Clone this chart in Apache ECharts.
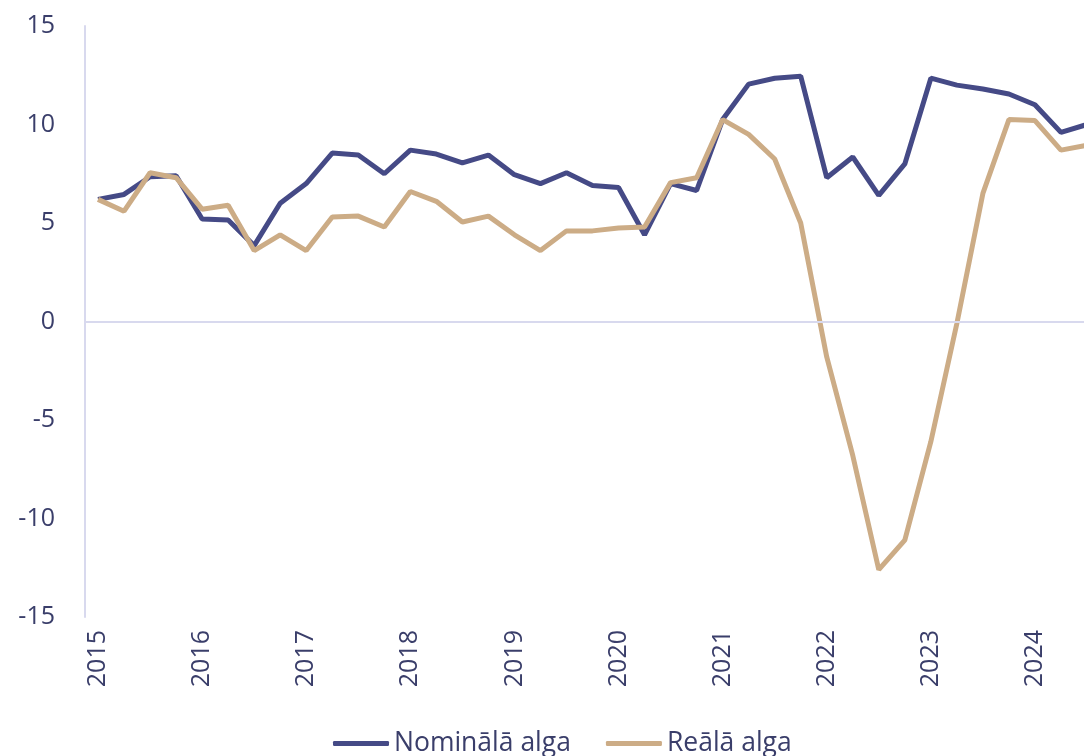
<!DOCTYPE html>
<html>
<head>
<meta charset="utf-8">
<script src="https://cdn.jsdelivr.net/npm/echarts@6/dist/echarts.min.js"></script>
<style>
html,body{margin:0;padding:0;background:#fff;overflow:hidden;width:1084px;height:756px;}
#c{width:1100px;height:756px;}
</style>
</head>
<body>
<div id="c"></div>
<script>
const quarters = [
  '2015 Q1','2015 Q2','2015 Q3','2015 Q4',
  '2016 Q1','2016 Q2','2016 Q3','2016 Q4',
  '2017 Q1','2017 Q2','2017 Q3','2017 Q4',
  '2018 Q1','2018 Q2','2018 Q3','2018 Q4',
  '2019 Q1','2019 Q2','2019 Q3','2019 Q4',
  '2020 Q1','2020 Q2','2020 Q3','2020 Q4',
  '2021 Q1','2021 Q2','2021 Q3','2021 Q4',
  '2022 Q1','2022 Q2','2022 Q3','2022 Q4',
  '2023 Q1','2023 Q2','2023 Q3','2023 Q4',
  '2024 Q1','2024 Q2','2024 Q3'
];
const nominal = [
  6.2, 6.45, 7.35, 7.4,
  5.2, 5.15, 3.85, 6.0,
  7.0, 8.55, 8.45, 7.5,
  8.7, 8.5, 8.05, 8.45,
  7.45, 7.0, 7.55, 6.9,
  6.8, 4.4, 7.0, 6.65,
  10.25, 12.05, 12.35, 12.45,
  7.3, 8.35, 6.4, 8.0,
  12.35, 12.0, 11.8, 11.55,
  11.0, 9.6, 10.0
];
const real = [
  6.2, 5.6, 7.55, 7.3,
  5.7, 5.9, 3.6, 4.4,
  3.6, 5.3, 5.35, 4.8,
  6.6, 6.1, 5.05, 5.35,
  4.4, 3.6, 4.6, 4.6,
  4.75, 4.8, 7.05, 7.3,
  10.25, 9.5, 8.25, 5.0,
  -1.8, -6.8, -12.6, -11.1,
  -6.1, -0.1, 6.5, 10.25,
  10.2, 8.7, 8.95
];
const seriesNames = ['Nominālā alga', 'Reālā alga'];
const yTicks = { min: -15, max: 15, step: 5 };

const textColor = '#3a3e6a';
const axisColor = '#d8d9ee';
const font = '"Open Sans", "Noto Sans", sans-serif';

const chart = echarts.init(document.getElementById('c'), null, { renderer: 'canvas' });
chart.setOption({
  animation: false,
  backgroundColor: '#ffffff',
  textStyle: { fontFamily: font },
  grid: { left: 85, top: 26, right: 0, height: 591 },
  legend: {
    left: 333,
    top: 730,
    padding: 0,
    icon: 'roundRect',
    itemWidth: 56,
    itemHeight: 5,
    itemGap: 35,
    textStyle: { fontSize: 26.5, color: textColor, fontFamily: font },
    data: seriesNames
  },
  xAxis: {
    type: 'category',
    boundaryGap: true,
    data: quarters,
    axisLine: { show: false },
    axisTick: { show: false },
    splitLine: { show: false },
    axisLabel: {
      interval: 3,
      rotate: 90,
      margin: 13,
      fontSize: 25,
      color: textColor,
      fontFamily: font,
      formatter: v => v.slice(0, 4)
    }
  },
  yAxis: {
    type: 'value',
    min: yTicks.min,
    max: yTicks.max,
    interval: yTicks.step,
    axisLine: { show: true, lineStyle: { color: axisColor, width: 2 } },
    axisTick: { show: false },
    splitLine: { show: false },
    axisLabel: { fontSize: 25, color: textColor, margin: 30, fontFamily: font }
  },
  series: [
    {
      name: seriesNames[0],
      type: 'line',
      data: nominal,
      symbol: 'none',
      lineStyle: { color: '#454a86', width: 5 },
      itemStyle: { color: '#454a86' },
      markLine: {
        silent: true,
        symbol: 'none',
        label: { show: false },
        lineStyle: { color: axisColor, width: 2, type: 'solid' },
        data: [{ yAxis: 0 }]
      },
      z: 2
    },
    {
      name: seriesNames[1],
      type: 'line',
      data: real,
      symbol: 'none',
      lineStyle: { color: '#ccac86', width: 5 },
      itemStyle: { color: '#ccac86' },
      z: 3
    }
  ]
});
</script>
</body>
</html>
